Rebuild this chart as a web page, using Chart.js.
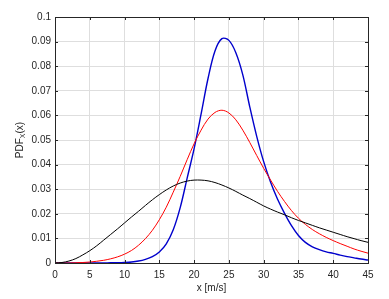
<!DOCTYPE html>
<html>
<head>
<meta charset="utf-8">
<script src="https://cdn.jsdelivr.net/npm/chart.js@4.4.1/dist/chart.umd.min.js"></script>
<style>
  body { margin: 0; background: #fff; }
  canvas { display: block; }
</style>
</head>
<body>
<canvas id="pdfChart" width="389" height="299"></canvas>
<script>
// wind speed samples [m/s]
let x_values = [0, 1, 2, 3, 4, 5, 6, 7, 8, 9, 10, 11, 12, 13, 14, 15, 16, 17, 18, 19, 20, 21, 22,
    23, 24, 25, 26, 27, 28, 29, 30, 31, 32, 33, 34, 35, 36, 37, 38, 39, 40, 41, 42, 43, 44, 45];

let pdf_black = [0, 0.0002, 0.0008, 0.0018, 0.0033, 0.0050, 0.0070, 0.0093, 0.0116, 0.0139, 0.0163,
    0.0187, 0.0210, 0.0234, 0.0257, 0.0278, 0.0297, 0.0313, 0.0325, 0.0333, 0.0337, 0.0337, 0.0334,
    0.0327, 0.0317, 0.0305, 0.0291, 0.0276, 0.0262, 0.0247, 0.0232, 0.0219, 0.0207, 0.0196, 0.0184,
    0.0173, 0.0163, 0.0153, 0.0143, 0.0134, 0.0125, 0.0116, 0.0107, 0.0099, 0.0091, 0.0084];

let pdf_red = [0, 0, 0, 0.0001, 0.0002, 0.0004, 0.0007, 0.0011, 0.0017, 0.0025, 0.0036, 0.0051,
    0.0072, 0.0099, 0.0133, 0.0176, 0.0227, 0.0288, 0.0352, 0.0420, 0.0485, 0.0540, 0.0585, 0.0612,
    0.0621, 0.0610, 0.0582, 0.0540, 0.0490, 0.0437, 0.0385, 0.0337, 0.0291, 0.0250, 0.0213, 0.0182,
    0.0157, 0.0136, 0.0119, 0.0104, 0.0091, 0.0079, 0.0068, 0.0057, 0.0048, 0.0040];

let pdf_blue = [0, 0, 0, 0, 0, 0, 0, 0, 0.0001, 0.0001, 0.0002, 0.0004, 0.0008, 0.0015, 0.0026,
    0.0045, 0.0078, 0.0135, 0.0225, 0.0345, 0.0465, 0.0605, 0.0750, 0.0862, 0.0912, 0.0905, 0.0855,
    0.0765, 0.0635, 0.0515, 0.0412, 0.0328, 0.0259, 0.0202, 0.0152, 0.0112, 0.0084, 0.0066, 0.0054,
    0.0045, 0.0039, 0.0032, 0.0026, 0.0021, 0.0016, 0.0012];

const FONT = "'Liberation Sans', Arial, sans-serif";
const TXT = "#262626";

function points(ys) {
    return x_values.map((x, i) => ({ x: x, y: ys[i] }));
}

function curve(ys, color, width) {
    return {
        data: points(ys),
        borderColor: color,
        borderWidth: width,
        pointRadius: 0,
        fill: false,
        tension: 0.35
    };
}

// matlab style box, inner ticks and axis titles
const axesBox = {
    id: "axesBox",
    afterDraw(chart) {
        const c = chart.ctx;
        const a = chart.chartArea;
        const sx = chart.scales.x, sy = chart.scales.y;
        c.save();
        c.strokeStyle = TXT;
        c.lineWidth = 1;
        c.strokeRect(Math.round(a.left) + 0.5, Math.round(a.top) + 0.5,
            Math.round(a.right - a.left), Math.round(a.bottom - a.top));
        c.beginPath();
        sx.ticks.forEach(t => {
            const px = Math.round(sx.getPixelForValue(t.value)) + 0.5;
            c.moveTo(px, a.bottom); c.lineTo(px, a.bottom - 3);
            c.moveTo(px, a.top); c.lineTo(px, a.top + 3);
        });
        sy.ticks.forEach(t => {
            const py = Math.round(sy.getPixelForValue(t.value)) + 0.5;
            c.moveTo(a.left, py); c.lineTo(a.left + 3, py);
            c.moveTo(a.right, py); c.lineTo(a.right - 3, py);
        });
        c.stroke();

        c.fillStyle = TXT;
        c.font = "10px " + FONT;
        c.textAlign = "center";
        c.textBaseline = "middle";
        c.fillText("x [m/s]", (a.left + a.right) / 2, 288);

        // y label with subscript X
        c.translate(20, (a.top + a.bottom) / 2);
        c.rotate(-Math.PI / 2);
        c.textAlign = "left";
        const w1 = c.measureText("PDF").width;
        c.font = "7px " + FONT;
        const w2 = c.measureText("X").width;
        c.font = "10px " + FONT;
        const w3 = c.measureText("(x)").width;
        let start = -(w1 + w2 + w3) / 2;
        c.fillText("PDF", start, 0);
        c.font = "7px " + FONT;
        c.fillText("X", start + w1, 3);
        c.font = "10px " + FONT;
        c.fillText("(x)", start + w1 + w2, 0);
        c.restore();
    }
};

new Chart(document.getElementById("pdfChart"), {
    type: "line",
    data: {
        datasets: [
            curve(pdf_black, "#000000", 1),
            curve(pdf_red, "#ff0000", 1),
            curve(pdf_blue, "#0000cc", 1.4)
        ]
    },
    options: {
        responsive: false,
        animation: false,
        devicePixelRatio: 1,
        layout: { padding: { top: 17, right: 21, left: 0, bottom: 0 } },
        plugins: {
            legend: { display: false },
            tooltip: { enabled: false }
        },
        scales: {
            x: {
                type: "linear",
                min: 0,
                max: 45,
                ticks: {
                    stepSize: 5,
                    color: TXT,
                    padding: 6,
                    maxRotation: 0,
                    font: { size: 10, family: FONT }
                },
                grid: { color: "#dedede", drawTicks: false },
                border: { display: false },
                afterFit(s) { s.height = 36; }
            },
            y: {
                min: 0,
                max: 0.1,
                ticks: {
                    stepSize: 0.01,
                    color: TXT,
                    padding: 4,
                    font: { size: 10, family: FONT },
                    callback: v => String(+v.toFixed(2))
                },
                grid: { color: "#dedede", drawTicks: false },
                border: { display: false },
                afterFit(s) { s.width = 55; }
            }
        }
    },
    plugins: [axesBox]
});
</script>
</body>
</html>
